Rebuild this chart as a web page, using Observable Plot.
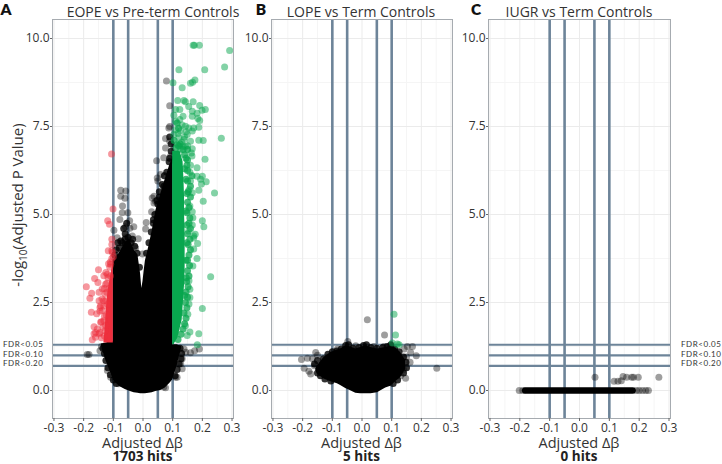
<!DOCTYPE html>
<html>
<head>
<meta charset="utf-8">
<script src="https://cdn.jsdelivr.net/npm/d3@7"></script>
<script src="https://cdn.jsdelivr.net/npm/@observablehq/plot@0.6"></script>
<style>
html,body{margin:0;padding:0;background:#fff}
#page{position:relative;width:722px;height:464px;overflow:hidden;font-family:"Open Sans",sans-serif;color:#333}
#page svg{position:absolute;top:0;background:transparent}
.t{position:absolute;white-space:nowrap;line-height:1}
</style>
</head>
<body>
<div id="page"></div>
<script>
// Reference lines
const deltaCuts = [-0.1, -0.05, 0.05, 0.1];
const fdrCuts = [1.3, 1.0, 0.7];
const fdrLabels = ["FDR<0.05", "FDR<0.10", "FDR<0.20"];
const xTicks = [-0.3, -0.2, -0.1, 0, 0.1, 0.2, 0.3];
const xMinor = [-0.25, -0.15, -0.05, 0.05, 0.15, 0.25];
const yTicks = [0, 2.5, 5, 7.5, 10];
const yMinor = [1.25, 3.75, 6.25, 8.75];
const panelTitles = ["EOPE vs Pre-term Controls", "LOPE vs Term Controls", "IUGR vs Term Controls"];
const panelLetters = ["A", "B", "C"];
const panelHits = ["1703 hits", "5 hits", "0 hits"];

// Panel A: dense black mass (extent of the overplotted points)
const eopeCoreX = [-.14,-.125,-.1001,-.1,-.08,-.06,-.045,-.03,-.017,-.008,-.004,0,.004,.008,.02,.031,.043,.06,.075,.09,.1,.1001,.115,.13];
const eopeCoreTop = [1.32,1.35,1.4,3.7,3.9,4.2,4.3,4.0,3.85,3.3,2.9,3.1,3.4,3.68,4.1,4.53,5.1,5.58,6.0,6.4,6.6,1.3,1.3,1.25];
const eopeCoreBottom = [1.25,.85,.32,.3,.12,.03,-.02,-.06,-.08,-.09,-.09,-.09,-.09,-.09,-.08,-.06,-.03,0,.07,.2,.3,.33,.7,1.2];
// Panel A: dense green and red bands
const eopeGreenBandY = [1.3,1.5,2,2.5,3,3.5,4,4.5,5,5.5,6,6.5,6.8];
const eopeGreenBandX = [.104,.118,.132,.136,.14,.142,.142,.142,.14,.14,.138,.135,.125];
const eopeRedBandY = [1.35,1.8,2.27,2.83,3.4,3.65];
const eopeRedBandX = [-.132,-.127,-.124,-.118,-.106,-.1];

const eopeGreen = [[.169,9.81],[.173,9.81],[.19,9.81],[.292,9.66],[.275,9.19],[.208,9.11],[.121,9.11],[.101,8.74],[.132,8.6],[.16,8.73],[.167,8.76],[.175,8.82],
[.117,8.24],[.138,8.24],[.143,8.2],[.169,8.2],[.191,8.1],[.21,7.98],[.199,7.96],[.11,7.98],[.124,7.98],[.154,8.07],[.166,7.93],[.182,7.88],[.104,7.82],[.135,7.79],[.166,7.79],[.185,7.73],[.191,7.67],[.124,7.7],[.11,7.65],[.132,7.54],[.154,7.46],[.171,7.46],[.188,7.48],[.143,7.51],[.11,7.41],[.126,7.37],[.166,7.37],[.149,7.27],[.104,7.27],[.121,7.18],[.138,7.13],[.16,7.08],[.188,7.11],[.203,7.1],[.264,7.17],[.115,6.99],[.135,6.94],[.143,6.94],[.166,6.87],[.126,6.85],[.15,6.95],[.13,7.05],[.14,7.2],[.118,7.3],[.145,7.35],
[.163,6.75],[.209,6.57],[.165,6.66],[.182,6.33],[.182,6.09],[.2,6.09],[.194,6],[.213,5.93],[.197,5.87],[.188,5.69],[.241,5.61],[.203,5.38],[.166,5.62],[.16,5.95],[.166,5.08],[.168,4.91],[.2,4.82],[.205,4.65],[.166,4.7],[.176,4.44],[.171,4.39],[.184,4.18],[.171,4.33],[.154,4.53],[.171,4.02],[.182,3.75],[.168,3.54],[.158,5.24],[.16,6.4],[.158,6.2],[.155,5.7],
[.228,3.23],[.2,2.33],[.188,1.61],[.158,1.66],[.149,1.56],[.183,1.3],[.155,3.12],[.158,2.88],[.155,2.46],[.151,2.17],[.143,1.84],[.158,2.64]];
const eopeGreenEdge = [[.118,1.45],[.128,1.6],[.135,1.75],[.14,1.9],[.145,2.05],[.138,2.2],[.148,2.35],[.143,2.5],[.15,2.65],[.145,2.8],[.152,2.95],[.147,3.1],[.155,3.25],[.15,3.4],[.157,3.55],[.15,3.7],[.155,3.85],[.16,4],[.152,4.15],[.158,4.3],[.15,4.45],[.16,4.6],[.155,4.75],[.158,4.9],[.148,5.05],[.155,5.2],[.15,5.35],[.16,5.5],[.152,5.65],[.16,5.8],[.15,5.95],[.165,6.1],[.15,6.25],[.148,6.4],[.15,6.55],[.14,6.7],[.15,6.85],[.125,7],[.105,7.1],[.12,7.45],[.115,7.6],[.112,6.9],[.12,6.95],[.135,6.85],[.145,6.6],[.14,6.3],[.145,6],[.148,5.6],[.145,5.1],[.148,4.7],[.148,4.2],[.145,3.7],[.146,3.2],[.14,2.7]];
const eopeRed = [[-.191,2.95],[-.173,2.76],[-.179,2.62],[-.163,3.18],[-.15,3.43],[-.132,3.26],[-.152,3.07],[-.137,2.89],[-.174,2.22],[-.156,2.18],[-.165,1.81],[-.171,1.44],[-.16,1.65],[-.148,2.55],[-.133,2.55],[-.143,2.41],[-.116,3.6],[-.103,3.92],
[-.106,6.72],[-.101,5.16],[-.119,4.82],[-.113,4.72],[-.105,4.3],[-.105,4.15],[-.117,3.97],[-.105,3.97],[-.1,3.8],
[-.148,2.79],[-.126,3.02],[-.12,3.3],[-.109,3.59],[-.143,1.94],[-.154,1.75],[-.148,1.61],[-.16,1.51],[-.165,1.61],[-.132,1.98],[-.137,2.27],[-.145,2.36],[-.126,2.55],[-.122,2.79],
[-.14,1.5],[-.145,1.65],[-.135,1.8],[-.14,1.95],[-.13,2.1],[-.145,2.25],[-.132,2.4],[-.138,2.6],[-.128,2.75],[-.13,2.9],[-.122,3.05],[-.118,3.2],[-.125,3.35],[-.112,3.5],[-.11,3.65],[-.105,3.75],[-.13,1.55],[-.128,1.7],[-.126,1.85],[-.124,2.15],[-.12,2.45],[-.114,2.9],[-.11,3.25]];
const eopeGrey = [[-.075,5.69],[-.058,5.67],[-.075,5.52],[-.061,5.46],[-.069,5.24],[-.07,5.05],[-.051,5.05],[-.078,4.86],[-.045,4.82],[-.098,4.55],[-.059,4.65],[-.031,4.65],[-.044,4.61],[-.036,4.39],[-.016,4.31],[-.087,4.34],[-.059,4.34],[-.025,4.05],[-.002,3.88],[.029,5.08],[.011,4.77],[.009,4.59],[.037,5.52],[.037,5.33],[.05,5.95],
[.046,6.53],[.07,6.61],[.093,6.66],[.076,6.89],[.09,7.08],[.076,7.16],[.087,7.46],[.09,7.5],[.09,8.09],[.079,8.79],[.059,6.14],[.048,6.04],[.031,5.47],[.042,5.38],
[.19,1.18],[.174,1.13],[.16,1.07],[.138,1.18],[.132,.9],[.132,.62],[.115,.38],[.076,.08],[.144,1.09],[.127,.76],
[-.182,1.02],[-.188,1.02],[-.145,1.13],[-.14,1.25],[-.12,.57],[-.109,.38],[-.082,.19],[.07,.1],[.11,.38]];
const eopeDark = [[-.06,4.15],[-.06,4.3],[-.06,4.45],[-.065,4.6],[-.055,4.75],[-.07,4.2],[-.05,4.35],[-.08,4.05],[-.09,4.0],[-.04,4.2],[-.095,3.85],[.035,4.75],[.04,5.0],[.05,5.3],[.055,5.5],[.07,5.8],[.08,6.2],[.09,6.6],[.095,6.8],[.095,7.0],[.09,7.2],
[.012,3.9],[.02,4.2],[.028,4.5],[.035,4.85],[.047,5.4],[.055,5.65],[.065,5.85],[.072,6.1],[.088,6.5],[-.02,3.9],[-.028,4.1],[-.012,3.5],[-.035,4.3],[-.085,4.2],[-.075,4.25],
[.125,1.2],[.13,1.05],[.128,.9],[.122,.75],[.115,.6],[.108,.42],[-.135,1.2],[-.13,1.05],[-.125,.85],[-.118,.65],[-.11,.45],[-.1,.3],[-.09,.2]];

// Panel B
const lopeCoreX = [-.156,-.151,-.128,-.105,-.083,-.072,-.055,-.04,-.021,-.005,.012,.03,.052,.08,.097,.115,.13,.147];
const lopeCoreTop = [.61,.7,.94,1.08,1.15,1.18,1.27,1.24,1.18,1.22,1.27,1.22,1.18,1.22,1.27,1.2,1.08,.85];
const lopeCoreBottom = [.58,.47,.33,.25,.19,.14,.06,0,-.08,-.09,-.09,-.09,-.06,.07,.12,.26,.36,.6];
const lopeGreen = [[.108,2.17],[.113,1.58],[.102,1.35],[.119,1.32],[.125,1.3]];
const lopeGrey = [[.018,2.01],[.076,1.58],[-.048,1.39],[-.204,.88],[-.195,.63],[-.179,.55],[-.173,.47],[-.184,.92],[-.156,1.08],[-.167,.9],[.252,.63],[.183,.99],[.17,1.25],[.153,1.25],[.164,1.08],[.142,1.18],[.162,.8],[.147,.35],[.13,.42],[-.021,1.27],[-.083,1.18],[.04,1.25],[.074,1.25],[-.15,1.0],[-.14,.6],[-.16,.7],[.15,.95],[.14,.6]];
const lopeDark = [[-.13,.9],[-.115,1.03],[-.1,1.1],[-.085,1.12],[-.07,1.18],[-.055,1.28],[-.045,1.3],[-.03,1.2],[-.01,1.22],[.005,1.28],[.015,1.3],[.03,1.22],[.05,1.2],[.07,1.22],[.085,1.25],[.097,1.3],[.11,1.18],[.125,1.1],[.14,.95],[.148,.8],[.15,.65],[.14,.5],[-.16,.75],[-.15,.85],[-.15,.5],[-.14,.42],[-.125,.33],[-.105,.27],[.12,.3],[.105,.2]];

// Panel C
const iugrCoreX = [-.182, .178];
const iugrCoreY = [0, 0];
const iugrGrey = [[.052,.38],[.116,.26],[.129,.26],[.14,.28],[.146,.4],[.158,.38],[.175,.38],[.181,.38],[.197,.38],[.266,.38],[-.202,0],[-.19,0],[.19,0],[.2,0],[.211,0],[.222,0],[.231,0]];

const RED = "#ee2f3d", GREEN = "#08a64e", LINE = "#6d8499";
const xy = {x: "0", y: "1"};
const dots = (arr, fill, o) => Plot.dot(arr, {...xy, r: 3.5, fill, fillOpacity: o, stroke: "none"});

function base(extra) {
  return [
    Plot.ruleX(xMinor, {stroke: "#f5f5f5", strokeWidth: 1}),
    Plot.ruleY(yMinor, {stroke: "#f5f5f5", strokeWidth: 1}),
    Plot.ruleX(xTicks, {stroke: "#ebebeb", strokeWidth: 1}),
    Plot.ruleY(yTicks, {stroke: "#ebebeb", strokeWidth: 1}),
    Plot.ruleX(deltaCuts, {stroke: LINE, strokeWidth: 2.6}),
    Plot.ruleY(fdrCuts, {stroke: LINE, strokeWidth: 2.2}),
    ...extra,
    Plot.frame({stroke: "#a6abb0", strokeWidth: 1}),
    Plot.axisX(xTicks, {tickSize: 3, tickPadding: 2, tickFormat: d => d.toFixed(1), fontSize: 12, label: null, stroke: "#666", color: "#333"}),
    Plot.axisY(yTicks, {tickSize: 2, tickPadding: 1, tickFormat: d => d.toFixed(1), fontSize: 12, label: null, stroke: "#666", color: "#333"})
  ];
}

function panel(left, marginLeft, innerWidth, marks) {
  const svg = Plot.plot({
    width: marginLeft + innerWidth + 14,
    height: 464,
    marginLeft, marginRight: 14, marginTop: 19, marginBottom: 46,
    style: {overflow: "visible", fontFamily: '"Open Sans",sans-serif', background: "transparent"},
    x: {domain: [-0.305, 0.305]},
    y: {domain: [-0.795, 10.54]},
    marks: base(marks)
  });
  svg.style.left = left + "px";
  document.getElementById("page").appendChild(svg);
}

const idx = a => a.map((_, i) => i);
panel(0, 52, 181, [
  dots(eopeGrey, "#000", .38),
  dots(eopeDark, "#000", .8),
  Plot.areaY(idx(eopeCoreX), {x: i => eopeCoreX[i], y1: i => eopeCoreBottom[i], y2: i => eopeCoreTop[i], fill: "#000"}),
  Plot.areaX(idx(eopeGreenBandY), {y: i => eopeGreenBandY[i], x1: 0.1, x2: i => eopeGreenBandX[i], fill: GREEN}),
  Plot.areaX(idx(eopeRedBandY), {y: i => eopeRedBandY[i], x1: -0.1, x2: i => eopeRedBandX[i], fill: RED}),
  dots(eopeRed, RED, .5),
  dots(eopeGreen, GREEN, .5),
  dots(eopeGreenEdge, GREEN, .75)
]);
panel(240, 31, 181, [
  dots(lopeGrey, "#000", .38),
  dots(lopeDark, "#000", .8),
  Plot.areaY(idx(lopeCoreX), {x: i => lopeCoreX[i], y1: i => lopeCoreBottom[i], y2: i => lopeCoreTop[i], fill: "#000"}),
  dots(lopeGreen, GREEN, .5)
]);
panel(460, 28, 182, [
  dots(iugrGrey, "#000", .38),
  Plot.line(idx(iugrCoreX), {x: i => iugrCoreX[i], y: i => iugrCoreY[i], stroke: "#000", strokeWidth: 6.6, strokeLinecap: "round"})
]);

// Text outside the panels
const page = document.getElementById("page");
function put(html, css) {
  const d = document.createElement("div");
  d.className = "t";
  d.innerHTML = html;
  d.style.cssText = css;
  page.appendChild(d);
}
const centers = [142.5, 361.5, 579];
const titleCenters = [153, 361, 579];
panelTitles.forEach((t, i) => {
  put(t, `left:${titleCenters[i]}px;top:12px;transform:translate(-50%,-50%);font-size:14px`);
  put("Adjusted Δβ", `left:${centers[i]}px;top:442.5px;transform:translate(-50%,-50%);font-size:14.5px`);
  put(panelHits[i], `left:${centers[i]}px;top:456.5px;transform:translate(-50%,-50%);font-size:13.5px;font-weight:700;color:#222`);
});
[6, 261, 476].forEach((x, i) => put(panelLetters[i], `left:${x}px;top:10px;transform:translate(-50%,-50%);font-size:15.5px;font-weight:800;color:#111;font-family:Lato,sans-serif`));
[3, 681].forEach(x => fdrLabels.forEach((t, i) => put(t, `left:${x}px;top:${[343.8, 353.6, 363.4][i]}px;transform:translateY(-50%);font-size:8px;letter-spacing:.55px;color:#333;font-family:Lato,sans-serif`)));
put('-log<sub style="font-size:10px;line-height:0">10</sub>(Adjusted P Value)', 'left:17px;top:205px;transform:translate(-50%,-50%) rotate(-90deg);font-size:15px');
</script>
</body>
</html>
